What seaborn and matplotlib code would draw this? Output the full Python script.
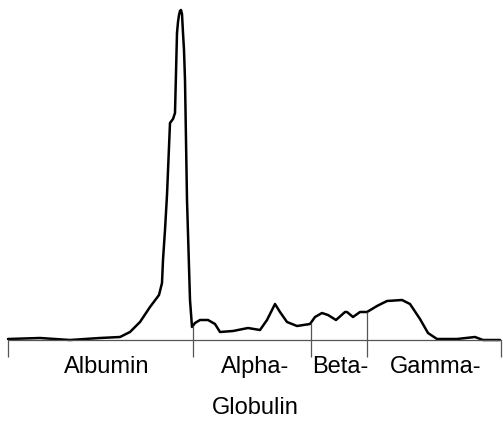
import numpy as np
import pandas as pd
import matplotlib
matplotlib.use("Agg")
import matplotlib.pyplot as plt
import seaborn as sns

# densitometry trace (position, height above baseline)
position = [8, 40, 70, 100, 120, 130, 140, 150, 159, 162, 163, 165, 167, 170, 173, 175,
            177, 178, 179, 180, 181, 182, 183, 184, 185, 187, 190, 192, 195, 200, 208,
            215, 220, 233, 248, 260, 267, 275, 280, 287, 297, 310, 315, 322, 328, 336,
            345, 347, 353, 360, 367, 377, 387, 402, 410, 420, 428, 437, 457, 475, 483, 500]
height = [1, 2, 0, 2, 3, 8, 18, 33, 45, 57, 80, 110, 145, 217, 221, 227,
          307, 318, 325, 329, 330, 326, 307, 290, 260, 140, 40, 13, 17, 20, 20,
          16, 8, 9, 12, 10, 20, 36, 28, 18, 14, 16, 23, 27, 25, 20,
          28, 28, 23, 28, 28, 34, 39, 40, 36, 21, 7, 1, 1, 3, 0, 0]

# fraction boundaries and labels
boundaries = [8, 193, 311, 367, 501]
inner_bounds = [193, 311, 367]
fractions = ["Albumin", "Alpha-", "Beta-", "Gamma-"]
label_x = [107, 255, 340, 436]
sub_label = "Globulin"

df = pd.DataFrame({"position": position, "height": height})

sns.set_style("white")
plt.rcParams["font.family"] = ["Liberation Sans", "DejaVu Sans"]

fig = plt.figure(figsize=(5.03, 4.24), dpi=100)
ax = fig.add_axes([0, 0, 1, 1])

sns.lineplot(data=df, x="position", y="height", ax=ax, color="black",
             linewidth=1.8, sort=False, estimator=None)

# baseline
ax.plot([boundaries[0], boundaries[-1]], [0, 0], color="#555555", lw=0.9)

# boundary markers, inner ones reach up to the trace
tops = [np.interp(b, position, height) if b in inner_bounds else 0 for b in boundaries]
ax.vlines(boundaries, -17, tops, color="#555555", lw=0.9)

for name, lx in zip(fractions, label_x):
    ax.text(lx, -27, name, ha="center", va="center", fontsize=17, color="black")
ax.text(label_x[1], -68, sub_label, ha="center", va="center", fontsize=17, color="black")

ax.set_xlim(0, 503)
ax.set_ylim(-84, 340)
ax.axis("off")

fig.savefig("out.png", dpi=100)
